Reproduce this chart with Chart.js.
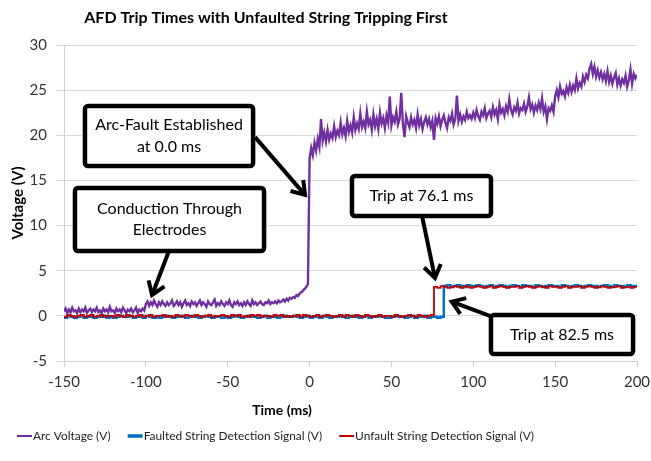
<!DOCTYPE html>
<html><head><meta charset="utf-8">
<script src="https://cdn.jsdelivr.net/npm/chart.js@4/dist/chart.umd.min.js"></script>
<style>html,body{margin:0;padding:0;background:#fff}#wrap{width:651px;height:461px}</style>
</head><body><div id="wrap"><canvas id="c" width="651" height="461"></canvas></div>
<script>
const chartTitle = 'AFD Trip Times with Unfaulted String Tripping First';
const xTitle = 'Time (ms)';
const yTitle = 'Voltage (V)';
const seriesNames = ['Arc Voltage (V)', 'Faulted String Detection Signal (V)', 'Unfault String Detection Signal (V)'];
const xTicks = [-150, -100, -50, 0, 50, 100, 150, 200];
const yTicks = [-5, 0, 5, 10, 15, 20, 25, 30];

// Arc voltage, sampled every 1 ms from -150 ms
const arcStart = -150, arcStep = 1;
const arcVoltage = [
0.5,0.8,0.3,0.7,0.4,0.9,0.5,0.6,0.3,0.8,
0.4,0.7,0.5,0.9,0.3,0.6,0.8,0.4,0.7,0.5,
0.9,0.4,0.6,0.3,0.8,0.5,0.7,0.4,1.0,0.5,
0.6,0.3,0.8,0.5,0.7,0.4,0.9,0.6,0.3,0.7,
0.5,0.8,0.4,0.6,0.9,0.3,0.7,0.5,0.8,0.6,
1.3,1.6,1.1,1.5,1.2,1.7,1.3,1.0,1.5,1.2,
1.6,1.3,1.1,1.5,1.2,1.4,1.7,1.1,1.3,1.6,
1.2,1.5,1.0,1.4,1.7,1.2,1.4,1.1,1.6,1.3,
1.5,1.1,1.4,1.7,1.2,1.5,1.3,1.0,1.6,1.3,
1.2,1.5,1.8,1.1,1.4,1.2,1.6,1.3,1.1,1.5,
1.3,1.7,1.2,1.0,1.5,1.3,1.6,1.2,1.4,1.1,
1.5,1.2,1.6,1.3,1.1,1.7,1.3,1.5,1.2,1.4,
1.6,1.3,1.2,1.5,1.4,1.7,1.3,1.5,1.4,1.6,
1.4,1.7,1.5,1.6,1.8,1.6,1.9,1.7,2.0,1.9,
2.1,2.0,2.3,2.2,2.5,2.6,2.8,3.0,3.2,3.5,
17.4,18.6,17.8,19.2,18.3,19.6,18.7,21.8,19.4,20.3,
19.3,20.6,19.5,20.2,19.7,21.0,19.8,20.5,20.0,21.4,
20.1,20.8,19.9,21.6,20.4,21.1,20.3,22.0,20.6,21.3,
20.7,22.4,20.9,21.5,20.8,22.6,21.2,21.7,20.6,22.3,
21.0,21.8,20.7,22.5,21.3,21.9,20.8,22.2,21.4,24.3,
21.1,22.0,21.5,22.6,21.2,21.8,24.7,21.3,19.8,22.1,
21.4,20.9,22.0,21.2,21.7,20.8,22.3,21.1,21.8,20.7,
21.5,22.0,21.2,21.8,20.9,21.6,19.5,21.9,21.3,22.1,
21.0,21.7,22.2,21.4,20.8,22.0,21.6,22.4,21.2,21.8,
24.4,21.6,22.3,21.5,22.1,21.7,22.6,21.9,22.2,21.8,
22.5,21.9,22.8,22.1,21.7,22.6,22.2,23.0,21.9,22.4,
22.7,22.0,23.1,22.3,22.8,21.8,23.4,22.5,22.9,22.2,
23.2,22.6,24.0,22.8,22.3,23.1,22.7,23.6,22.4,23.0,
22.8,23.5,22.6,23.2,24.2,22.9,23.4,22.5,23.3,22.8,
23.6,22.9,24.1,22.6,23.2,21.8,23.0,22.7,23.3,22.6,
24.3,25.0,24.2,25.4,24.6,24.9,24.3,25.3,24.7,25.6,
24.8,25.5,25.0,26.3,25.2,25.8,25.4,26.5,25.9,26.7,
26.3,27.4,27.9,26.8,27.6,26.5,27.2,26.4,27.0,26.2,
26.8,26.0,27.1,25.9,26.6,25.7,26.4,26.9,25.6,26.3,
25.5,26.2,25.8,26.6,25.4,26.1,27.3,25.7,26.8,26.3,
26.7
];

// Detection signals, sampled every 2 ms from -150 ms
const sigStart = -150, sigStep = 2;
const faultedSignal = [
-0.1,-0.2,0.0,-0.1,-0.2,-0.1,0.0,-0.2,-0.1,-0.1,
-0.2,-0.1,-0.1,0.0,-0.2,-0.1,-0.2,-0.1,0.0,-0.1,
-0.1,0.0,-0.2,-0.1,-0.1,-0.2,0.0,-0.1,-0.2,-0.1,
-0.2,-0.1,0.0,-0.1,-0.2,-0.1,-0.1,0.0,-0.2,-0.1,
0.0,-0.1,-0.2,-0.1,0.0,-0.1,-0.2,-0.1,-0.1,-0.2,
-0.1,-0.2,-0.1,0.0,-0.1,-0.2,-0.1,0.0,-0.1,-0.1,
-0.2,-0.1,0.0,-0.2,-0.1,-0.1,-0.2,-0.1,0.0,-0.1,
-0.1,0.0,-0.1,-0.2,-0.1,0.0,-0.2,-0.1,-0.1,-0.2,
0.0,-0.1,-0.2,-0.1,-0.1,0.0,-0.1,-0.2,-0.1,0.0,
-0.1,-0.2,-0.1,0.0,-0.2,-0.1,-0.1,0.0,-0.1,-0.2,
-0.2,-0.1,0.0,-0.1,-0.1,-0.2,-0.1,0.0,-0.2,-0.1,
-0.1,0.0,-0.2,-0.1,-0.1,-0.2,-0.1,
3.3,3.4,3.2,3.3,3.4,3.3,3.2,3.4,3.3,3.3,
3.4,3.3,3.2,3.3,3.4,3.2,3.3,3.4,3.3,3.2,
3.3,3.4,3.3,3.2,3.4,3.3,3.3,3.2,3.4,3.3,
3.2,3.3,3.4,3.3,3.3,3.2,3.4,3.3,3.2,3.3,
3.4,3.3,3.2,3.3,3.4,3.3,3.3,3.2,3.3,3.4,
3.3,3.2,3.4,3.3,3.3,3.2,3.4,3.3,3.3
];
const unfaultSignal = [
0.0,-0.1,0.1,0.0,-0.1,0.0,0.1,-0.1,0.0,0.1,
-0.1,0.0,0.1,-0.1,0.0,0.0,-0.1,0.1,0.0,-0.1,
0.1,0.0,-0.1,0.0,0.1,-0.1,0.0,0.1,-0.1,0.0,
0.0,0.1,-0.1,0.0,-0.1,0.1,0.0,-0.1,0.1,0.0,
-0.1,0.1,0.0,-0.1,0.0,0.1,-0.1,0.0,0.0,0.1,
0.0,-0.1,0.1,0.0,0.1,-0.1,0.0,-0.1,0.1,0.0,
0.1,-0.1,0.0,0.0,-0.1,0.1,0.0,0.1,-0.1,0.0,
-0.1,0.0,0.1,-0.1,0.1,0.0,-0.1,0.0,0.1,-0.1,
0.0,0.1,0.0,-0.1,0.0,0.1,-0.1,0.1,0.0,-0.1,
0.1,0.0,-0.1,0.1,0.0,-0.1,0.0,0.1,-0.1,0.0,
0.0,-0.1,0.1,0.0,-0.1,0.0,0.1,0.0,-0.1,0.1,
0.0,-0.1,0.0,0.1,
3.2,3.1,3.3,3.2,3.1,3.2,3.3,3.2,3.1,3.3,
3.2,3.1,3.2,3.3,3.2,3.1,3.2,3.3,3.1,3.2,
3.3,3.2,3.1,3.2,3.2,3.3,3.1,3.2,3.3,3.2,
3.1,3.2,3.3,3.2,3.1,3.3,3.2,3.2,3.1,3.2,
3.3,3.1,3.2,3.2,3.3,3.1,3.2,3.3,3.2,3.1,
3.2,3.3,3.2,3.1,3.2,3.2,3.3,3.1,3.2,3.2,
3.1,3.2
];

// Callout texts and their anchors (in data units: ms, V)
const callouts = [
  {lines: ['Arc-Fault Established', 'at 0.0 ms'], box: [-137.2, 23.24, -34.5, 16.6], from: [-33.3, 19.8], to: [-2.8, 13.4]},
  {lines: ['Conduction Through', 'Electrodes'], box: [-143.3, 14.16, -27.8, 7.18], from: [-85.9, 7.18], to: [-96.2, 2.31]},
  {lines: ['Trip at 76.1 ms'], box: [25.9, 15.49, 110.8, 11.06], from: [68.7, 11.06], to: [76.6, 4.2]},
  {lines: ['Trip at 82.5 ms'], box: [110.8, 0.1, 197.6, -4.22], from: [111.3, -0.09], to: [86.8, 1.57]}
];

const colors = ['#7030A0', '#0070C0', '#C00000'];
const toPts = (arr, start, step) => arr.map((v, i) => ({x: start + i * step, y: v}));

const FONT = 'Lato, "Open Sans", sans-serif';
Chart.defaults.font.family = FONT;
Chart.defaults.color = '#333';

const decor = {
  id: 'decor',
  afterDraw(chart) {
    const ctx = chart.ctx;
    const xs = chart.scales.x, ys = chart.scales.y;
    ctx.save();
    ctx.fillStyle = '#000';
    ctx.textAlign = 'center';
    ctx.textBaseline = 'middle';
    ctx.font = 'bold 16px ' + FONT;
    ctx.fillText(chartTitle, 266, 18);
    ctx.font = 'bold 14px ' + FONT;
    ctx.fillText(xTitle, 282, 410);
    ctx.save();
    ctx.translate(18, 203);
    ctx.rotate(-Math.PI / 2);
    ctx.font = 'bold 15px ' + FONT;
    ctx.fillText(yTitle, 0, 0);
    ctx.restore();
    // Legend
    ctx.font = '11.9px ' + FONT;
    ctx.textAlign = 'left';
    ctx.fillStyle = '#222';
    const widths = [2, 3.5, 2];
    let lx = 17;
    const ly = 436;
    seriesNames.forEach((name, i) => {
      ctx.strokeStyle = colors[i];
      ctx.lineWidth = widths[i];
      ctx.beginPath();
      ctx.moveTo(lx, ly);
      ctx.lineTo(lx + 15, ly);
      ctx.stroke();
      ctx.fillText(name, lx + 16, ly);
      lx += 16 + ctx.measureText(name).width + 17;
    });
    // Callouts
    callouts.forEach(c => {
      const x1 = xs.getPixelForValue(c.box[0]), y1 = ys.getPixelForValue(c.box[1]);
      const x2 = xs.getPixelForValue(c.box[2]), y2 = ys.getPixelForValue(c.box[3]);
      const fx = xs.getPixelForValue(c.from[0]), fy = ys.getPixelForValue(c.from[1]);
      const tx = xs.getPixelForValue(c.to[0]), ty = ys.getPixelForValue(c.to[1]);
      ctx.strokeStyle = '#000';
      ctx.lineWidth = 4;
      ctx.lineCap = 'butt';
      ctx.lineJoin = 'miter';
      ctx.beginPath();
      ctx.moveTo(fx, fy);
      ctx.lineTo(tx, ty);
      ctx.stroke();
      const ang = Math.atan2(ty - fy, tx - fx);
      const hl = 15, ha = 0.6;
      ctx.beginPath();
      ctx.moveTo(tx - hl * Math.cos(ang - ha), ty - hl * Math.sin(ang - ha));
      ctx.lineTo(tx, ty);
      ctx.lineTo(tx - hl * Math.cos(ang + ha), ty - hl * Math.sin(ang + ha));
      ctx.stroke();
      ctx.fillStyle = '#fff';
      ctx.beginPath();
      ctx.roundRect(x1, y1, x2 - x1, y2 - y1, 3);
      ctx.fill();
      ctx.lineWidth = 4.5;
      ctx.stroke();
      ctx.fillStyle = '#000';
      ctx.font = '16px ' + FONT;
      ctx.textAlign = 'center';
      ctx.textBaseline = 'middle';
      const cx = (x1 + x2) / 2, cy = (y1 + y2) / 2;
      const lh = 21.5;
      c.lines.forEach((t, i) => {
        ctx.fillText(t, cx, cy + (i - (c.lines.length - 1) / 2) * lh);
      });
    });
    ctx.restore();
  }
};

new Chart(document.getElementById('c'), {
  type: 'line',
  data: {
    datasets: [
      {label: seriesNames[0], data: toPts(arcVoltage, arcStart, arcStep), borderColor: colors[0], borderWidth: 2.4, pointRadius: 0, tension: 0, order: 3},
      {label: seriesNames[1], data: toPts(faultedSignal, sigStart, sigStep), borderColor: colors[1], borderWidth: 2.5, pointRadius: 0, tension: 0, stepped: 'after', order: 2},
      {label: seriesNames[2], data: toPts(unfaultSignal, sigStart, sigStep), borderColor: colors[2], borderWidth: 1.8, pointRadius: 0, tension: 0, stepped: 'after', order: 1}
    ]
  },
  options: {
    responsive: false,
    animation: false,
    layout: {padding: {top: 45, right: 14, left: 0, bottom: 0}},
    plugins: {legend: {display: false}, title: {display: false}, tooltip: {enabled: false}},
    scales: {
      x: {
        type: 'linear', min: -150, max: 200,
        afterFit: s => { s.height = 100; s.paddingLeft = 0; s.paddingRight = 0; },
        afterBuildTicks: s => { s.ticks = xTicks.map(v => ({value: v})); },
        grid: {drawOnChartArea: false, drawTicks: true, tickLength: 6, color: '#d0d0d0'},
        border: {display: true, color: '#d0d0d0'},
        ticks: {font: {size: 15}, color: '#333', padding: 6, maxRotation: 0, autoSkip: false}
      },
      y: {
        type: 'linear', min: -5, max: 30,
        afterFit: s => { s.width = 64; s.paddingTop = 0; s.paddingBottom = 0; },
        afterBuildTicks: s => { s.ticks = yTicks.map(v => ({value: v})); },
        grid: {color: '#d9d9d9', tickLength: 8},
        border: {display: true, color: '#d0d0d0'},
        ticks: {font: {size: 15}, color: '#333', padding: 9}
      }
    }
  },
  plugins: [decor]
});
</script>
</body></html>
